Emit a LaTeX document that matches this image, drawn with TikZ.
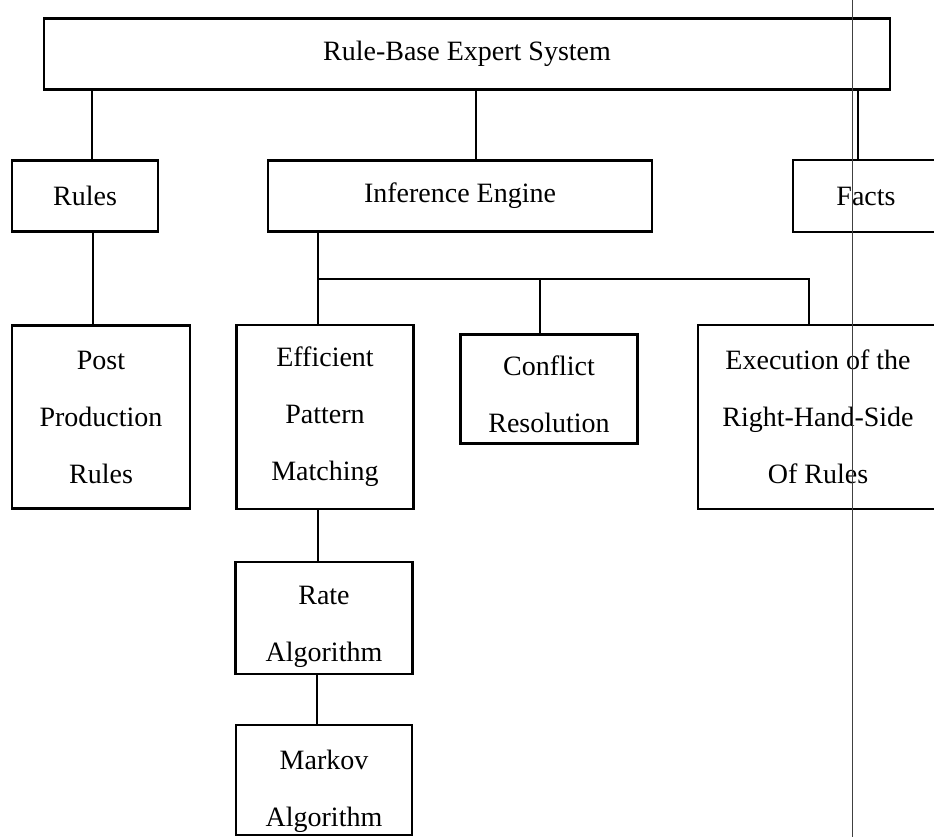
\documentclass[tikz,border=0pt]{standalone}
\usepackage{fontspec}
\setmainfont{Liberation Serif}
\newcommand\lowr[2]{\raisebox{-#1}[\height][\depth]{#2}}
\begin{document}
\begin{tikzpicture}[x=1pt,y=-1pt,
  box/.style={draw, line width=2.3pt, inner sep=0pt, align=center,
    font=\fontsize{28}{57}\selectfont},
  conn/.style={line width=2pt},
  scanline/.style={line width=0.7pt, black!75}]
\useasboundingbox (0,0) rectangle (934,837);
\clip (0,0) rectangle (934,837);

% nodes
\node[box, minimum width=846pt, minimum height=71pt] (top) at (467,54) {Rule-Base Expert System};
\node[box, minimum width=146pt, minimum height=71pt] (rules) at (85,196) {Rules};
\node[box, minimum width=384pt, minimum height=71pt] (inf) at (460,196) {Inference Engine};
\node[box, minimum width=146pt, minimum height=72pt] (facts) at (866,196) {Facts};
\node[box, minimum width=178pt, minimum height=183pt] (post) at (101,417) {Post\\Production\\Rules};
\node[box, minimum width=177pt, minimum height=184pt] (eff) at (325,417) {Efficient\\Pattern\\Matching};
\node[box, minimum width=177pt, minimum height=109pt] (conf) at (549,389) {\lowr{5pt}{Conflict}\\\lowr{5pt}{Resolution}};
\node[box, minimum width=240pt, minimum height=184pt] (exec) at (818,417) {Execution of the\\Right-Hand-Side\\Of Rules};
\node[box, minimum width=177pt, minimum height=112pt] (rate) at (324,618) {\lowr{9pt}{Rate}\\\lowr{9pt}{Algorithm}};
\node[box, minimum width=176pt, minimum height=110pt] (markov) at (324,780) {\lowr{11pt}{Markov}\\\lowr{11pt}{Algorithm}};

\coordinate (bus) at (318,279);

% connectors
\draw[conn] ([xshift=7pt]rules.north) -- ([xshift=7pt]rules.north |- top.south);
\draw[conn] ([xshift=8pt]rules.south) -- ([xshift=8pt]rules.south |- post.north);
\draw[conn] ([xshift=16pt]inf.north) -- ([xshift=16pt]inf.north |- top.south);
\draw[conn] ([xshift=-8pt]facts.north) -- ([xshift=-8pt]facts.north |- top.south);
\draw[conn] ([xshift=-7pt]eff.north |- inf.south) -- ([xshift=-7pt]eff.north);
\draw[conn] (bus) -| ([xshift=-9pt]exec.north);
\draw[conn] ([xshift=-9pt]conf.north) -- ([xshift=-9pt]conf.north |- bus);
\draw[conn] ([xshift=-7.5pt]eff.south) -- ([xshift=-7.5pt]eff.south |- rate.north);
\draw[conn] ([xshift=-7pt]rate.south) -- ([xshift=-7pt]rate.south |- markov.north);

% scanner line
\coordinate (s1) at (852.5,0);
\coordinate (s2) at (852.5,837);
\draw[scanline] (s1) -- (s2);
\end{tikzpicture}
\end{document}
